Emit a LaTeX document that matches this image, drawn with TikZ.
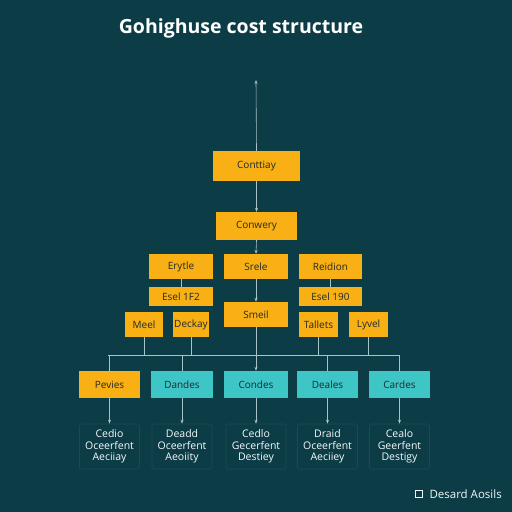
\documentclass[tikz,border=0pt]{standalone}
\usepackage{fontspec}
\setmainfont{Open Sans}
\usetikzlibrary{arrows.meta}
\definecolor{bg}{HTML}{0C3D47}
\definecolor{org}{HTML}{F8B014}
\definecolor{tea}{HTML}{3EC5C6}
\definecolor{ln}{HTML}{A8C3C7}
\definecolor{txt}{HTML}{1E2A2E}
\definecolor{fb}{HTML}{1B4A53}
\tikzset{
  obox/.style={fill=org, text=txt, inner sep=0pt, font=\fontsize{10}{12}\selectfont},
  tbox/.style={fill=tea, text=txt, inner sep=0pt, font=\fontsize{10}{12}\selectfont},
  fbox/.style={draw=fb, line width=0.6pt, rounded corners=2pt, text=white!90!ln, inner sep=0pt,
     minimum width=60pt, minimum height=45pt, align=center, font=\fontsize{10.5}{11.5}\selectfont},
  conn/.style={draw=ln, line width=0.6pt},
  arr/.style={conn, -{Stealth[length=4pt,width=3pt]}},
}
\begin{document}
\begin{tikzpicture}[x=1pt,y=-1pt]
\fill[bg] (0,0) rectangle (512,512);
\useasboundingbox (0,0) rectangle (512,512);
\node[text=white, font=\bfseries\fontsize{19.5}{22}\selectfont] (title) at (241,28) {Gohighuse cost structure};

\node[obox, minimum width=87pt, minimum height=30pt] (top) at (256.5,166) {Conttiay};
\node[obox, minimum width=81pt, minimum height=28pt] (conw) at (256.5,226) {Conwery};
\node[obox, minimum width=64pt, minimum height=25pt] (erytle) at (181,266.5) {Erytle};
\node[obox, minimum width=64pt, minimum height=25pt] (srele) at (256,266.5) {Srele};
\node[obox, minimum width=63pt, minimum height=25pt] (reidion) at (330.5,266.5) {Reidion};
\node[obox, minimum width=64pt, minimum height=19pt] (esel1) at (181,296.5) {Esel 1F2};
\node[obox, minimum width=63pt, minimum height=19pt] (esel2) at (330.5,296.5) {Esel 190};
\node[obox, minimum width=64pt, minimum height=25pt] (smeil) at (256,314.5) {Smeil};
\node[obox, minimum width=38pt, minimum height=25pt] (meel) at (144,324.5) {Meel};
\node[obox, minimum width=36pt, minimum height=25pt] (deckay) at (191,324.5) {Deckay};
\node[obox, minimum width=39pt, minimum height=25pt] (tallets) at (318.5,324.5) {Tallets};
\node[obox, minimum width=39pt, minimum height=25pt] (lyvel) at (368.5,324.5) {Lyvel};

\node[obox, minimum width=61pt, minimum height=27pt] (pevies) at (109.5,384.5) {Pevies};
\node[tbox, minimum width=62pt, minimum height=27pt] (dandes) at (182,384.5) {Dandes};
\node[tbox, minimum width=64pt, minimum height=27pt] (condes) at (256,384.5) {Condes};
\node[tbox, minimum width=61pt, minimum height=27pt] (deales) at (327.5,384.5) {Deales};
\node[tbox, minimum width=61pt, minimum height=27pt] (cardes) at (399.5,384.5) {Cardes};

\node[fbox] (f1) at (109.5,446.5) {Cedio\\Oceerfent\\Aeciiay};
\node[fbox] (f2) at (182,446.5) {Deadd\\Oceerfent\\Aeoiity};
\node[fbox] (f3) at (256,446.5) {Cedlo\\Gecerfent\\Destiey};
\node[fbox] (f4) at (327.5,446.5) {Draid\\Oceerfent\\Aeciiey};
\node[fbox] (f5) at (399.5,446.5) {Cealo\\Geerfent\\Destigy};

\node[text=white!85!ln, font=\fontsize{11.5}{13}\selectfont, anchor=west] (foot) at (426,494) {Desard Aosils};
\node[draw=white!85!ln, line width=0.8pt, minimum width=7pt, minimum height=7pt, inner sep=0pt] (fsq) at (419,494) {};

\coordinate (up) at (256,80);
\draw[arr] (top.north) -- (up);
\draw[arr] (top.south) -- (conw.north);
\draw[arr] (conw.south) -- (srele.north);
\draw[conn] (erytle.south) -- (esel1.north);
\draw[conn] (reidion.south) -- (esel2.north);
\draw[arr] (srele.south) -- (smeil.north);
\draw[arr] (smeil.south) -- (condes.north);

\coordinate (bl) at (108,355);
\coordinate (br) at (400,355);
\draw[conn] (bl) -- (br);
\draw[conn] (meel.south) -- (meel.south |- bl);
\draw[conn] (deckay.south) -- (deckay.south |- bl);
\draw[conn] (tallets.south) -- (tallets.south |- bl);
\draw[conn] (lyvel.south) -- (lyvel.south |- bl);
\draw[conn] (pevies.north |- bl) -- (pevies.north);
\draw[conn] (dandes.north |- bl) -- (dandes.north);
\draw[conn] (deales.north |- bl) -- (deales.north);
\draw[conn] (cardes.north |- bl) -- (cardes.north);

\foreach \a/\b in {pevies/f1,dandes/f2,condes/f3,deales/f4,cardes/f5}
  \draw[arr] (\a.south) -- (\b.north);
\end{tikzpicture}
\end{document}
